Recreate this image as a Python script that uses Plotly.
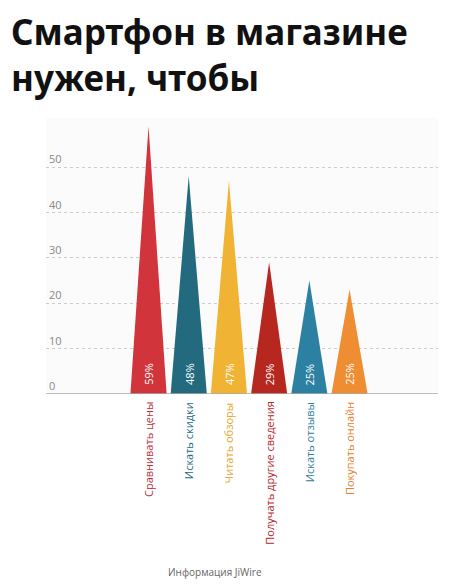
import plotly.graph_objects as go

# данные
categories = ["Сравнивать цены", "Искать скидки", "Читать обзоры",
              "Получать другие сведения", "Искать отзывы", "Покупать онлайн"]
values = [59, 48, 47, 29, 25, 23]
pct_labels = ["59%", "48%", "47%", "29%", "25%", "25%"]
colors = ["#d2343b", "#236a7f", "#f0b334", "#b5271f", "#2c80a2", "#ef8d33"]
label_colors = ["#c2303a", "#236a7f", "#e8a62a", "#b5271f", "#2c80a2", "#e8802a"]
y_ticks = [0, 10, 20, 30, 40, 50]

fig = go.Figure()
half = 0.45
for i, (v, c) in enumerate(zip(values, colors)):
  fig.add_trace(go.Scatter(
    x=[i - half, i, i + half, i - half], y=[0, v, 0, 0],
    fill="toself", fillcolor=c, mode="lines", line=dict(width=0, color=c),
    hoverinfo="skip", showlegend=False))
  fig.add_annotation(x=i, y=1.5, text=pct_labels[i], textangle=-90,
                     showarrow=False, yanchor="bottom",
                     font=dict(color="white", size=11, family="Open Sans"))
  fig.add_annotation(x=i, xref="x", yref="paper", y=0, yshift=-6,
                     text=categories[i], textangle=-90,
                     showarrow=False, yanchor="top",
                     font=dict(color=label_colors[i], size=11, family="Open Sans"))

fig.add_annotation(xref="paper", yref="paper", x=-0.095, y=1.0, yshift=112,
                   xanchor="left", yanchor="top", align="left", showarrow=False,
                   text="<b>Смартфон в магазине<br>нужен, чтобы</b>",
                   font=dict(size=35, color="#111", family="Noto Sans"))
fig.add_annotation(xref="paper", yref="paper", x=0.43, y=0, yshift=-187,
                   showarrow=False, text="Информация JiWire",
                   font=dict(size=10, color="#666", family="Open Sans"))

fig.update_layout(
  width=475, height=585, margin=dict(l=38, r=45, t=110, b=199),
  paper_bgcolor="white", plot_bgcolor="#fbfbfb",
  xaxis=dict(range=[-2.55, 7.2], showgrid=False, showticklabels=False,
             zeroline=False, showline=False),
  yaxis=dict(range=[0, 60.8], tickvals=y_ticks, ticklabelposition="inside top",
             gridcolor="#cccccc", griddash="dot", zeroline=False,
             showline=False, tickfont=dict(size=11, color="#888", family="Open Sans")),
  shapes=[dict(type="line", xref="paper", yref="y", x0=0, x1=1, y0=0, y1=0,
               line=dict(color="#aaaaaa", width=1.5))],
)

fig.write_html("out.html")
